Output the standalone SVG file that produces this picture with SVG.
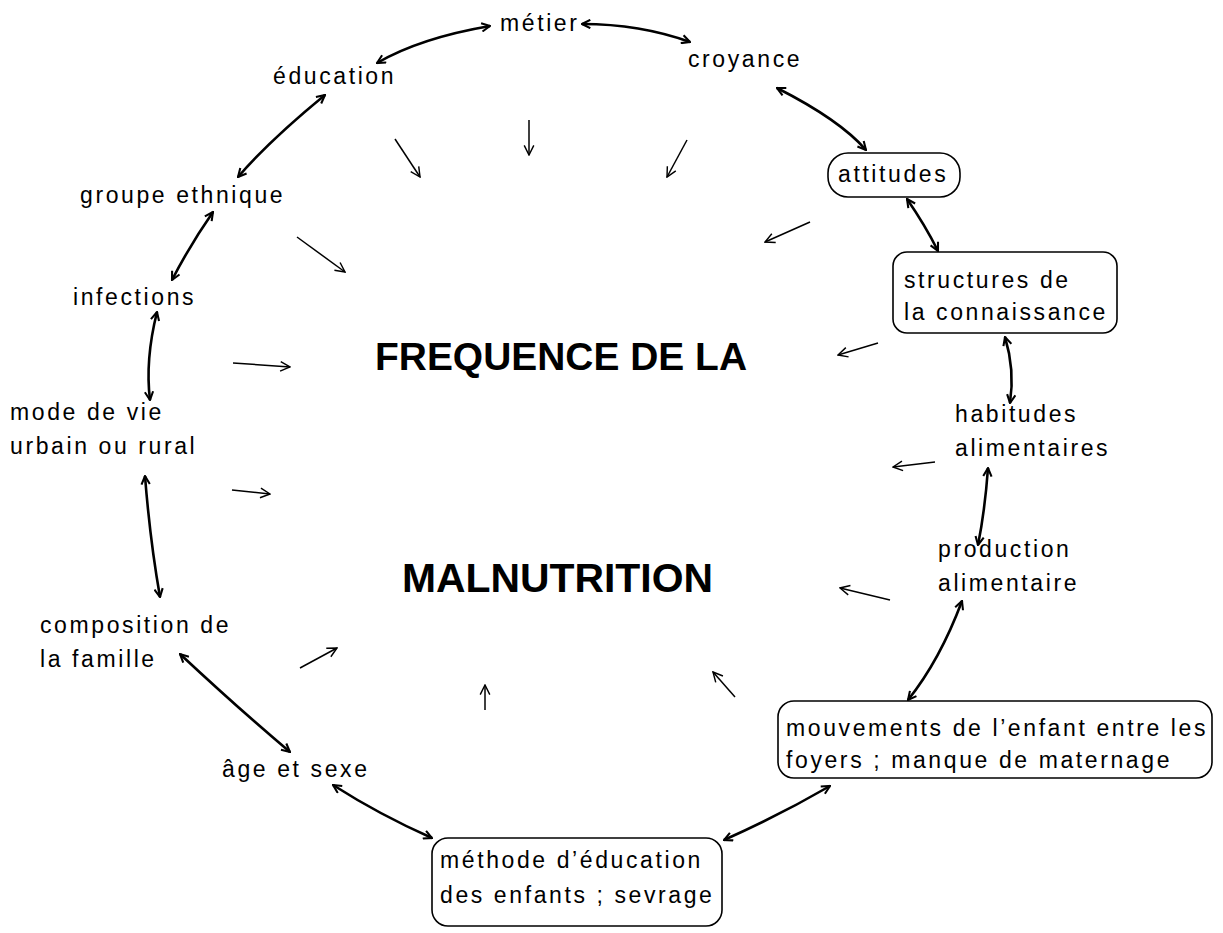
<svg xmlns="http://www.w3.org/2000/svg" width="1223" height="933" viewBox="0 0 1223 933">
<style>
.t{font-family:"Liberation Sans","DejaVu Sans",sans-serif;font-size:23px;letter-spacing:2.6px;fill:#000}
.title{font-family:"Liberation Sans","DejaVu Sans",sans-serif;font-weight:bold;fill:#000}
.box{fill:none;stroke:#000;stroke-width:1.6}
.ring{fill:none;stroke:#000;stroke-width:2.6;marker-start:url(#h);marker-end:url(#h)}
.in{fill:none;stroke:#000;stroke-width:1.5;marker-end:url(#o)}
</style>
<defs>
<marker id="h" viewBox="0 0 10 10" refX="9" refY="5" markerWidth="4" markerHeight="4" orient="auto-start-reverse" markerUnits="strokeWidth">
<path d="M1,1 L9,5 L1,9" fill="none" stroke="#000" stroke-width="2"/>
</marker>
<marker id="o" viewBox="0 0 10 10" refX="9" refY="5" markerWidth="8" markerHeight="8" orient="auto" markerUnits="strokeWidth">
<path d="M1,1 L9,5 L1,9" fill="none" stroke="#000" stroke-width="1.2"/>
</marker>
</defs>
<rect width="1223" height="933" fill="#fff"/>

<g id="title">
<text class="title" x="375" y="370" font-size="39" textLength="372" lengthAdjust="spacingAndGlyphs">FREQUENCE DE LA</text>
<text class="title" x="402" y="592" font-size="40" textLength="311" lengthAdjust="spacingAndGlyphs">MALNUTRITION</text>
</g>

<g id="metier"><text class="t" x="500" y="31">métier</text></g>
<g id="education"><text class="t" x="273" y="84">éducation</text></g>
<g id="croyance"><text class="t" x="688" y="67">croyance</text></g>
<g id="attitudes"><rect class="box" x="828" y="153" width="132" height="44" rx="20"/><text class="t" x="838" y="182">attitudes</text></g>
<g id="groupe"><text class="t" x="80" y="203">groupe ethnique</text></g>
<g id="structures"><rect class="box" x="893" y="252" width="224" height="81" rx="14"/><text class="t" x="904" y="288">structures de</text><text class="t" x="904" y="320">la connaissance</text></g>
<g id="infections"><text class="t" x="73" y="305">infections</text></g>
<g id="modevie"><text class="t" x="10" y="420">mode de vie</text><text class="t" x="10" y="454">urbain ou rural</text></g>
<g id="habitudes"><text class="t" x="955" y="422">habitudes</text><text class="t" x="955" y="456">alimentaires</text></g>
<g id="production"><text class="t" x="938" y="557">production</text><text class="t" x="938" y="591">alimentaire</text></g>
<g id="composition"><text class="t" x="40" y="633">composition de</text><text class="t" x="40" y="667">la famille</text></g>
<g id="mouvements"><rect class="box" x="778" y="701" width="434" height="77" rx="16"/><text class="t" x="786" y="736">mouvements de l’enfant entre les</text><text class="t" x="786" y="768">foyers ; manque de maternage</text></g>
<g id="age"><text class="t" x="222" y="777">âge et sexe</text></g>
<g id="methode"><rect class="box" x="432" y="838" width="290" height="88" rx="16"/><text class="t" x="440" y="868">méthode d’éducation</text><text class="t" x="440" y="903">des enfants ; sevrage</text></g>

<g id="connectors">
<path class="ring" d="M377,63 Q420,38 490,26"/>
<path class="ring" d="M582,24 Q640,24 690,42"/>
<path class="ring" d="M777,88 Q840,120 866,150"/>
<path class="ring" d="M325,95 Q270,140 238,177"/>
<path class="ring" d="M907,199 Q925,225 938,251"/>
<path class="ring" d="M213,212 Q190,245 172,280"/>
<path class="ring" d="M157,312 Q145,360 150,400"/>
<path class="ring" d="M1005,337 Q1015,370 1010,403"/>
<path class="ring" d="M988,468 Q985,510 978,545"/>
<path class="ring" d="M145,476 Q150,540 160,597"/>
<path class="ring" d="M962,601 Q940,660 908,700"/>
<path class="ring" d="M180,654 Q240,710 290,752"/>
<path class="ring" d="M333,785 Q380,815 432,838"/>
<path class="ring" d="M830,786 Q780,815 724,840"/>

<path class="in" d="M395,139 L420,177"/>
<path class="in" d="M529,120 L529,155"/>
<path class="in" d="M687,140 L667,177"/>
<path class="in" d="M810,222 L765,242"/>
<path class="in" d="M297,237 L345,272"/>
<path class="in" d="M878,343 L838,355"/>
<path class="in" d="M233,363 L290,367"/>
<path class="in" d="M935,462 L893,467"/>
<path class="in" d="M232,490 L270,494"/>
<path class="in" d="M890,600 L840,588"/>
<path class="in" d="M300,668 L337,648"/>
<path class="in" d="M485,710 L485,685"/>
<path class="in" d="M735,697 L713,672"/>
</g>
</svg>
